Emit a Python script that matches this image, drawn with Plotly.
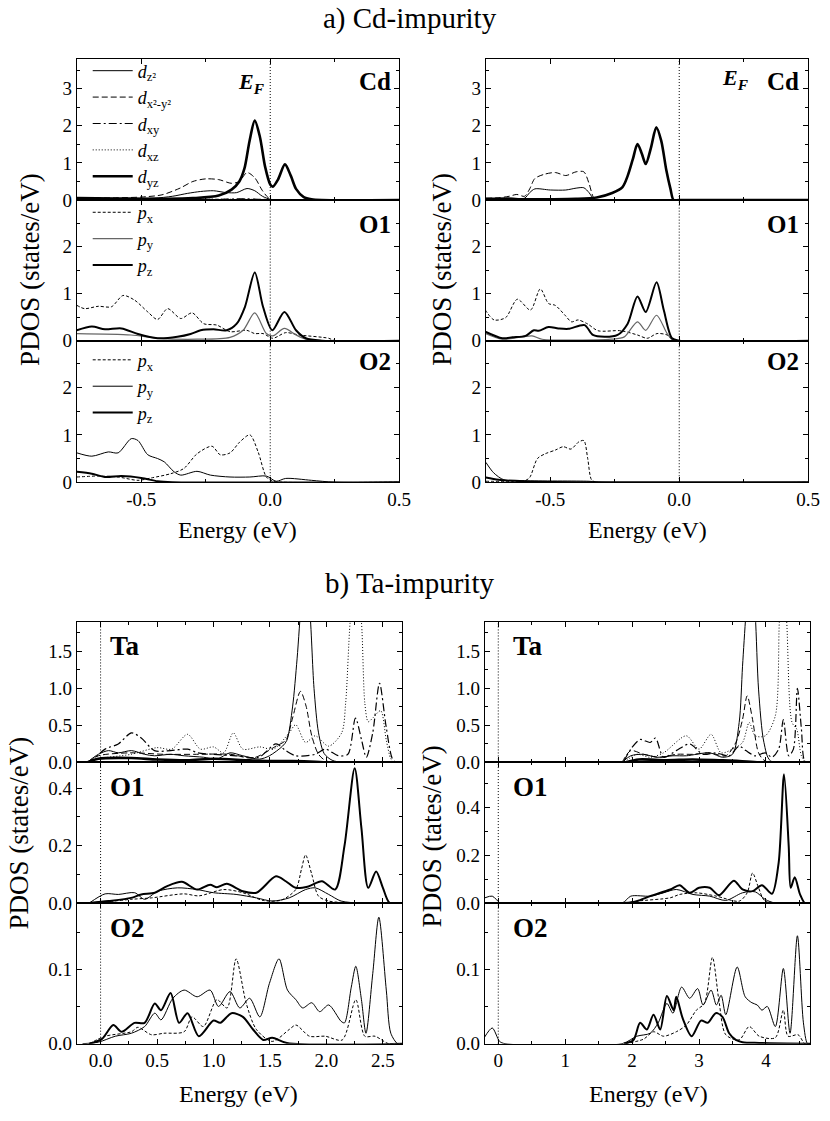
import plotly.graph_objects as go

FONT = "Liberation Serif, Times New Roman, serif"
W, H = 830, 1121

# ---------------- tick labels ----------------
TOP_X_TICKS = [-0.5, 0.0, 0.5]
TOP_X_TEXT = ["-0.5", "0.0", "0.5"]
TOP_Y_TICKS_CD = [0, 1, 2, 3]
TOP_Y_TICKS_O = [0, 1, 2]
BL_X_TICKS = [0.0, 0.5, 1.0, 1.5, 2.0, 2.5]
BL_X_TEXT = ["0.0", "0.5", "1.0", "1.5", "2.0", "2.5"]
BR_X_TICKS = [0, 1, 2, 3, 4]
BR_X_TEXT = ["0", "1", "2", "3", "4"]
TA_Y_TICKS = [0.0, 0.5, 1.0, 1.5]
TA_Y_TEXT = ["0.0", "0.5", "1.0", "1.5"]
O1B_Y_TICKS = [0.0, 0.2, 0.4]
O1B_Y_TEXT = ["0.0", "0.2", "0.4"]
O2B_Y_TICKS = [0.0, 0.1]
O2B_Y_TEXT = ["0.0", "0.1"]

# ================= a) Cd-impurity, left column =================
E_TL_CD_DZ2 = [-0.75, -0.6, -0.45, -0.38, -0.32, -0.27, -0.22, -0.17, -0.13, -0.09, -0.06, -0.03, 0.0, 0.05, 0.5]
V_TL_CD_DZ2 = [0.04, 0.04, 0.05, 0.1, 0.18, 0.23, 0.25, 0.2, 0.2, 0.31, 0.25, 0.1, 0.02, 0.0, 0.0]
E_TL_CD_DX2 = [-0.75, -0.6, -0.5, -0.42, -0.35, -0.3, -0.25, -0.2, -0.15, -0.12, -0.09, -0.06, -0.03, 0.0, 0.05, 0.5]
V_TL_CD_DX2 = [0.05, 0.06, 0.08, 0.14, 0.32, 0.5, 0.57, 0.55, 0.45, 0.5, 0.74, 0.6, 0.25, 0.02, 0.0, 0.0]
E_TL_CD_DXY = [-0.75, -0.5, -0.2, -0.1, 0.0, 0.1, 0.5]
V_TL_CD_DXY = [0.02, 0.02, 0.02, 0.03, 0.01, 0.0, 0.0]
E_TL_CD_DXZ = [-0.75, -0.5, -0.2, -0.1, 0.0, 0.1, 0.5]
V_TL_CD_DXZ = [0.01, 0.01, 0.02, 0.02, 0.01, 0.0, 0.0]
E_TL_CD_DYZ = [-0.75, -0.6, -0.4, -0.3, -0.2, -0.15, -0.12, -0.1, -0.08, -0.06, -0.04, -0.02, 0.0, 0.01, 0.03, 0.057, 0.08, 0.1, 0.13, 0.16, 0.2, 0.5]
V_TL_CD_DYZ = [0.05, 0.04, 0.03, 0.05, 0.12, 0.28, 0.5, 0.85, 1.6, 2.14, 1.7, 0.9, 0.42, 0.36, 0.55, 0.96, 0.65, 0.3, 0.08, 0.02, 0.0, 0.0]
E_TL_O1_PX = [-0.75, -0.72, -0.667, -0.616, -0.571, -0.526, -0.475, -0.437, -0.398, -0.347, -0.303, -0.258, -0.207, -0.156, -0.092, -0.06, -0.028, 0.01, 0.06, 0.112, 0.227, 0.25, 0.5]
V_TL_O1_PX = [0.75, 0.68, 0.73, 0.72, 0.96, 0.86, 0.61, 0.45, 0.68, 0.47, 0.59, 0.36, 0.33, 0.19, 0.22, 0.15, 0.15, 0.05, 0.17, 0.12, 0.05, 0.0, 0.0]
E_TL_O1_PY = [-0.75, -0.54, -0.437, -0.284, -0.156, -0.105, -0.06, -0.015, 0.01, 0.055, 0.1, 0.138, 0.2, 0.5]
V_TL_O1_PY = [0.15, 0.12, 0.05, 0.03, 0.07, 0.22, 0.59, 0.15, 0.1, 0.26, 0.12, 0.03, 0.0, 0.0]
E_TL_O1_PZ = [-0.75, -0.692, -0.641, -0.577, -0.513, -0.437, -0.36, -0.309, -0.27, -0.22, -0.169, -0.13, -0.098, -0.06, -0.028, 0.008, 0.055, 0.1, 0.138, 0.2, 0.5]
V_TL_O1_PZ = [0.22, 0.3, 0.24, 0.26, 0.14, 0.05, 0.08, 0.14, 0.22, 0.24, 0.22, 0.36, 0.72, 1.45, 0.72, 0.22, 0.61, 0.22, 0.05, 0.0, 0.0]
E_TL_O2_PX = [-0.75, -0.667, -0.59, -0.513, -0.462, -0.386, -0.335, -0.284, -0.226, -0.194, -0.156, -0.118, -0.079, -0.047, -0.015, 0.01, 0.05, 0.5]
V_TL_O2_PX = [0.11, 0.13, 0.11, 0.04, 0.09, 0.18, 0.29, 0.6, 0.76, 0.58, 0.62, 0.85, 1.0, 0.64, 0.11, 0.02, 0.0, 0.0]
E_TL_O2_PY = [-0.75, -0.692, -0.628, -0.59, -0.539, -0.513, -0.475, -0.437, -0.411, -0.373, -0.347, -0.284, -0.232, -0.156, -0.079, -0.015, 0.023, 0.06, 0.16, 0.25, 0.5]
V_TL_O2_PY = [0.62, 0.55, 0.64, 0.62, 0.92, 0.88, 0.58, 0.5, 0.43, 0.22, 0.15, 0.23, 0.15, 0.11, 0.11, 0.13, 0.02, 0.08, 0.04, 0.0, 0.0]
E_TL_O2_PZ = [-0.75, -0.692, -0.641, -0.577, -0.5, -0.437, -0.38, 0.5]
V_TL_O2_PZ = [0.22, 0.18, 0.11, 0.13, 0.09, 0.02, 0.0, 0.0]

# ================= a) Cd-impurity, right column =================
E_TR_CD_DZ2 = [-0.75, -0.66, -0.6, -0.58, -0.56, -0.5, -0.44, -0.4, -0.37, -0.35, -0.33, -0.3, 0.0, 0.5]
V_TR_CD_DZ2 = [0.05, 0.06, 0.05, 0.2, 0.3, 0.27, 0.27, 0.32, 0.33, 0.2, 0.02, 0.0, 0.0, 0.0]
E_TR_CD_DX2 = [-0.75, -0.7, -0.66, -0.63, -0.6, -0.58, -0.56, -0.52, -0.48, -0.44, -0.4, -0.37, -0.35, -0.33, -0.3, 0.0, 0.5]
V_TR_CD_DX2 = [0.05, 0.06, 0.1, 0.15, 0.1, 0.3, 0.58, 0.7, 0.74, 0.66, 0.76, 0.76, 0.45, 0.05, 0.0, 0.0, 0.0]
E_TR_CD_DXY = [-0.75, -0.5, -0.3, 0.0, 0.5]
V_TR_CD_DXY = [0.02, 0.02, 0.01, 0.0, 0.0]
E_TR_CD_DXZ = [-0.75, -0.5, -0.3, 0.0, 0.5]
V_TR_CD_DXZ = [0.01, 0.01, 0.01, 0.0, 0.0]
E_TR_CD_DYZ = [-0.75, -0.5, -0.4, -0.32, -0.26, -0.22, -0.2, -0.18, -0.162, -0.145, -0.13, -0.11, -0.089, -0.07, -0.05, -0.034, -0.022, 0.0, 0.5]
V_TR_CD_DYZ = [0.02, 0.02, 0.03, 0.07, 0.19, 0.35, 0.65, 1.1, 1.51, 1.25, 0.97, 1.4, 1.96, 1.6, 0.8, 0.3, 0.0, 0.0, 0.0]
E_TR_O1_PX = [-0.752, -0.718, -0.673, -0.628, -0.577, -0.539, -0.507, -0.481, -0.443, -0.418, -0.392, -0.354, -0.315, -0.226, -0.162, -0.124, -0.086, -0.047, -0.022, 0.0, 0.5]
V_TR_O1_PX = [0.65, 0.44, 0.49, 0.88, 0.65, 1.1, 0.79, 0.75, 0.54, 0.4, 0.44, 0.35, 0.21, 0.21, 0.12, 0.05, 0.15, 0.12, 0.0, 0.0, 0.0]
E_TR_O1_PY = [-0.752, -0.686, -0.571, -0.532, -0.264, -0.213, -0.162, -0.13, -0.088, -0.047, -0.022, 0.0, 0.5]
V_TR_O1_PY = [0.15, 0.03, 0.1, 0.03, 0.03, 0.08, 0.4, 0.22, 0.54, 0.15, 0.0, 0.0, 0.0]
E_TR_O1_PZ = [-0.752, -0.686, -0.647, -0.596, -0.564, -0.545, -0.507, -0.469, -0.43, -0.367, -0.335, -0.29, -0.239, -0.2, -0.162, -0.13, -0.088, -0.06, -0.028, 0.0, 0.5]
V_TR_O1_PZ = [0.19, 0.05, 0.07, 0.1, 0.22, 0.21, 0.29, 0.26, 0.25, 0.33, 0.12, 0.08, 0.12, 0.36, 0.94, 0.61, 1.24, 0.65, 0.05, 0.0, 0.0]
E_TR_O2_PX = [-0.75, -0.65, -0.6, -0.58, -0.55, -0.52, -0.48, -0.45, -0.42, -0.39, -0.37, -0.355, -0.34, -0.32, 0.5]
V_TR_O2_PX = [0.02, 0.02, 0.03, 0.1, 0.5, 0.6, 0.68, 0.75, 0.7, 0.85, 0.88, 0.5, 0.05, 0.0, 0.0]
E_TR_O2_PY = [-0.75, -0.72, -0.68, -0.6, -0.35, -0.3, 0.5]
V_TR_O2_PY = [0.42, 0.2, 0.05, 0.03, 0.02, 0.0, 0.0]
E_TR_O2_PZ = [-0.75, -0.7, -0.6, -0.4, 0.5]
V_TR_O2_PZ = [0.1, 0.05, 0.02, 0.0, 0.0]

# ================= b) Ta-impurity, left column =================
E_BL_TA_DZ2 = [-0.12, -0.02, 0.07, 0.157, 0.273, 0.39, 0.477, 0.62, 0.74, 0.913, 1.03, 1.146, 1.26, 1.408, 1.495, 1.611, 1.65, 1.70, 1.74, 1.78, 1.81, 1.85, 1.89, 1.93, 1.98, 2.05, 2.15, 2.67]
V_BL_TA_DZ2 = [0.0, 0.11, 0.16, 0.13, 0.16, 0.11, 0.09, 0.11, 0.09, 0.07, 0.045, 0.13, 0.09, 0.045, 0.09, 0.22, 0.3, 0.75, 1.4, 2.2, 2.5, 2.1, 1.0, 0.4, 0.12, 0.03, 0.0, 0.0]
E_BL_TA_DX2 = [-0.12, -0.02, 0.27, 0.56, 0.85, 1.15, 1.35, 1.553, 1.64, 1.70, 1.77, 1.82, 1.87, 1.93, 2.0, 2.2, 2.67]
V_BL_TA_DX2 = [0.0, 0.09, 0.13, 0.11, 0.11, 0.11, 0.06, 0.22, 0.3, 0.6, 0.96, 0.76, 0.36, 0.11, 0.02, 0.01, 0.0]
E_BL_TA_DXY = [-0.12, -0.076, 0.04, 0.157, 0.273, 0.36, 0.477, 0.62, 0.77, 0.86, 1.0, 1.2, 1.4, 1.553, 1.64, 1.728, 1.9, 1.99, 2.106, 2.19, 2.257, 2.31, 2.353, 2.41, 2.47, 2.528, 2.585, 2.62, 2.67]
V_BL_TA_DXY = [0.0, 0.03, 0.18, 0.25, 0.4, 0.33, 0.16, 0.16, 0.18, 0.13, 0.11, 0.09, 0.07, 0.25, 0.16, 0.09, 0.11, 0.18, 0.09, 0.11, 0.6, 0.31, 0.07, 0.4, 1.07, 0.49, 0.045, 0.0, 0.0]
E_BL_TA_DXZ = [-0.12, -0.02, 0.27, 0.5, 0.63, 0.77, 0.884, 1.0, 1.09, 1.175, 1.26, 1.41, 1.53, 1.67, 1.728, 1.815, 1.9, 2.02, 2.135, 2.17, 2.21, 2.26, 2.31, 2.34, 2.37, 2.41, 2.48, 2.53, 2.57, 2.6, 2.67]
V_BL_TA_DXZ = [0.0, 0.05, 0.11, 0.2, 0.18, 0.38, 0.18, 0.21, 0.13, 0.4, 0.18, 0.21, 0.18, 0.4, 0.51, 0.27, 0.36, 0.22, 0.4, 0.8, 1.9, 2.6, 1.9, 0.8, 0.55, 0.6, 0.7, 0.3, 0.05, 0.0, 0.0]
E_BL_TA_DYZ = [-0.12, -0.02, 0.27, 0.5, 0.77, 1.0, 1.3, 1.5, 1.7, 1.9, 2.0, 2.67]
V_BL_TA_DYZ = [0.0, 0.05, 0.06, 0.04, 0.03, 0.05, 0.03, 0.02, 0.02, 0.01, 0.0, 0.0]
E_BL_O1_PX = [-0.05, 0.27, 0.45, 0.74, 0.87, 1.09, 1.26, 1.44, 1.6, 1.728, 1.78, 1.815, 1.87, 1.93, 2.02, 2.3, 2.67]
V_BL_O1_PX = [0.0, 0.013, 0.018, 0.032, 0.025, 0.047, 0.036, 0.009, 0.01, 0.047, 0.12, 0.168, 0.1, 0.024, 0.007, 0.0, 0.0]
E_BL_O1_PY = [-0.1, 0.04, 0.157, 0.302, 0.39, 0.506, 0.68, 0.855, 1.0, 1.2, 1.38, 1.52, 1.67, 1.815, 1.9, 2.02, 2.13, 2.3, 2.67]
V_BL_O1_PY = [0.0, 0.032, 0.03, 0.036, 0.013, 0.041, 0.053, 0.047, 0.036, 0.03, 0.018, 0.007, 0.018, 0.047, 0.053, 0.03, 0.007, 0.0, 0.0]
E_BL_O1_PZ = [-0.1, 0.07, 0.27, 0.36, 0.48, 0.59, 0.72, 0.855, 0.97, 1.03, 1.117, 1.26, 1.38, 1.553, 1.64, 1.728, 1.84, 1.96, 2.077, 2.16, 2.25, 2.31, 2.37, 2.44, 2.5, 2.56, 2.67]
V_BL_O1_PZ = [0.0, 0.007, 0.018, 0.03, 0.036, 0.059, 0.074, 0.047, 0.064, 0.055, 0.067, 0.041, 0.036, 0.093, 0.076, 0.053, 0.058, 0.076, 0.047, 0.2, 0.47, 0.26, 0.053, 0.11, 0.053, 0.0, 0.0]
E_BL_O2_PX = [-0.1, 0.04, 0.273, 0.33, 0.45, 0.56, 0.74, 0.81, 0.91, 1.03, 1.12, 1.2, 1.29, 1.38, 1.52, 1.67, 1.73, 1.85, 1.99, 2.14, 2.26, 2.34, 2.43, 2.55, 2.67]
V_BL_O2_PX = [0.0, 0.01, 0.016, 0.022, 0.012, 0.014, 0.016, 0.036, 0.023, 0.059, 0.048, 0.114, 0.054, 0.019, 0.003, 0.019, 0.025, 0.01, 0.01, 0.005, 0.059, 0.01, 0.01, 0.0, 0.0]
E_BL_O2_PY = [-0.16, -0.02, 0.13, 0.273, 0.39, 0.48, 0.535, 0.64, 0.74, 0.855, 0.97, 1.044, 1.146, 1.233, 1.32, 1.41, 1.495, 1.58, 1.655, 1.73, 1.79, 1.87, 1.94, 2.02, 2.13, 2.16, 2.22, 2.26, 2.31, 2.35, 2.41, 2.464, 2.53, 2.57, 2.63, 2.67]
V_BL_O2_PY = [0.0, 0.002, 0.01, 0.014, 0.023, 0.041, 0.032, 0.061, 0.072, 0.063, 0.072, 0.05, 0.07, 0.048, 0.061, 0.036, 0.081, 0.114, 0.072, 0.059, 0.048, 0.055, 0.043, 0.052, 0.03, 0.028, 0.076, 0.104, 0.059, 0.014, 0.094, 0.17, 0.072, 0.014, 0.0, 0.0]
E_BL_O2_PZ = [-0.1, 0.01, 0.113, 0.186, 0.3, 0.39, 0.48, 0.535, 0.62, 0.695, 0.77, 0.87, 1.0, 1.06, 1.16, 1.26, 1.35, 1.44, 1.52, 1.65, 2.67]
V_BL_O2_PZ = [0.0, 0.006, 0.025, 0.016, 0.028, 0.028, 0.054, 0.045, 0.068, 0.028, 0.041, 0.01, 0.031, 0.028, 0.041, 0.036, 0.019, 0.005, 0.008, 0.001, 0.0]

# ================= b) Ta-impurity, right column =================
E_BR_TA_DZ2 = [1.85, 1.98, 2.17, 2.37, 2.61, 2.81, 3.16, 3.35, 3.5, 3.6, 3.65, 3.7, 3.77, 3.84, 3.89, 3.97, 4.07, 4.66]
V_BR_TA_DZ2 = [0.0, 0.09, 0.11, 0.07, 0.09, 0.09, 0.13, 0.07, 0.11, 0.54, 1.3, 2.0, 2.8, 2.0, 0.98, 0.27, 0.02, 0.0]
E_BR_TA_DX2 = [1.85, 1.98, 2.17, 2.42, 2.66, 2.91, 3.16, 3.4, 3.55, 3.65, 3.72, 3.8, 3.89, 3.99, 4.66]
V_BR_TA_DX2 = [0.0, 0.16, 0.11, 0.07, 0.11, 0.11, 0.13, 0.09, 0.27, 0.58, 0.9, 0.58, 0.13, 0.02, 0.0]
E_BR_TA_DXY = [1.88, 1.98, 2.12, 2.27, 2.35, 2.47, 2.66, 2.86, 3.06, 3.25, 3.45, 3.6, 3.7, 3.84, 3.99, 4.09, 4.19, 4.26, 4.34, 4.41, 4.47, 4.53, 4.58, 4.66]
V_BR_TA_DXY = [0.02, 0.18, 0.31, 0.27, 0.33, 0.07, 0.16, 0.25, 0.11, 0.13, 0.09, 0.22, 0.16, 0.09, 0.13, 0.07, 0.18, 0.58, 0.09, 0.18, 1.0, 0.45, 0.02, 0.0]
E_BR_TA_DXZ = [1.88, 2.07, 2.27, 2.47, 2.81, 3.0, 3.18, 3.33, 3.5, 3.65, 3.75, 3.84, 3.99, 4.14, 4.2, 4.25, 4.31, 4.39, 4.46, 4.53, 4.6, 4.66]
V_BR_TA_DXZ = [0.0, 0.11, 0.07, 0.13, 0.36, 0.18, 0.38, 0.13, 0.18, 0.27, 0.54, 0.36, 0.36, 0.63, 1.9, 2.6, 1.9, 0.54, 0.45, 0.09, 0.0, 0.0]
E_BR_TA_DYZ = [1.9, 2.1, 2.5, 2.9, 3.3, 3.6, 3.9, 4.66]
V_BR_TA_DYZ = [0.0, 0.04, 0.03, 0.04, 0.03, 0.02, 0.0, 0.0]
E_BR_O1_PX = [1.9, 2.07, 2.57, 2.71, 2.96, 3.26, 3.6, 3.72, 3.8, 3.89, 3.99, 4.66]
V_BR_O1_PX = [0.0, 0.008, 0.022, 0.036, 0.043, 0.029, 0.008, 0.043, 0.126, 0.064, 0.008, 0.0]
E_BR_O1_PY = [-0.2, -0.09, 0.03, 0.1, 1.85, 1.98, 2.27, 2.47, 2.66, 2.91, 3.16, 3.4, 3.65, 3.84, 3.99, 4.14, 4.66]
V_BR_O1_PY = [0.022, 0.029, 0.0, 0.0, 0.0, 0.029, 0.029, 0.043, 0.057, 0.036, 0.029, 0.011, 0.043, 0.047, 0.015, 0.0, 0.0]
E_BR_O1_PZ = [1.88, 2.07, 2.27, 2.57, 2.71, 2.86, 3.0, 3.16, 3.3, 3.52, 3.65, 3.8, 3.94, 4.09, 4.19, 4.27, 4.34, 4.37, 4.43, 4.51, 4.58, 4.66]
V_BR_O1_PZ = [0.0, 0.008, 0.029, 0.057, 0.075, 0.043, 0.064, 0.064, 0.033, 0.094, 0.057, 0.05, 0.075, 0.039, 0.17, 0.54, 0.24, 0.064, 0.108, 0.036, 0.0, 0.0]
E_BR_O2_PX = [1.9, 2.17, 2.32, 2.47, 2.66, 2.81, 2.96, 3.08, 3.2, 3.3, 3.4, 3.6, 3.75, 3.9, 4.14, 4.26, 4.33, 4.48, 4.58, 4.66]
V_BR_O2_PX = [0.0, 0.006, 0.016, 0.01, 0.016, 0.025, 0.045, 0.054, 0.116, 0.056, 0.012, 0.005, 0.023, 0.01, 0.008, 0.045, 0.01, 0.012, 0.0, 0.0]
E_BR_O2_PY = [-0.21, -0.09, 0.02, 0.1, 1.85, 2.07, 2.27, 2.39, 2.52, 2.61, 2.74, 2.86, 2.98, 3.06, 3.18, 3.26, 3.33, 3.4, 3.57, 3.69, 3.79, 3.87, 3.94, 4.02, 4.14, 4.26, 4.36, 4.47, 4.56, 4.62, 4.66]
V_BR_O2_PY = [0.008, 0.021, 0.003, 0.0, 0.0, 0.01, 0.014, 0.028, 0.054, 0.041, 0.076, 0.061, 0.074, 0.052, 0.072, 0.052, 0.065, 0.039, 0.103, 0.063, 0.055, 0.052, 0.045, 0.05, 0.023, 0.101, 0.014, 0.145, 0.028, 0.0, 0.0]
E_BR_O2_PZ = [1.88, 2.02, 2.12, 2.22, 2.32, 2.42, 2.52, 2.62, 2.66, 2.76, 2.89, 3.03, 3.13, 3.25, 3.35, 3.45, 3.55, 3.65, 3.9, 4.66]
V_BR_O2_PZ = [0.0, 0.005, 0.028, 0.019, 0.039, 0.019, 0.064, 0.045, 0.063, 0.033, 0.01, 0.031, 0.028, 0.041, 0.036, 0.014, 0.005, 0.002, 0.001, 0.0]

# ---------------- styles ----------------
STY = {
    "thin": dict(color="black", width=1),
    "dash": dict(color="black", width=1, dash="6px,3px"),
    "dashdot": dict(color="black", width=1.2, dash="8px,3px,2px,3px"),
    "dot": dict(color="black", width=1, dash="1px,2px"),
    "thick": dict(color="black", width=2.6),
    "pdash": dict(color="black", width=1, dash="3px,2px"),
    "gray": dict(color="#666666", width=1.2),
    "pthick": dict(color="black", width=2),
}

D_NAMES = ["<i>d</i><sub>z²</sub>", "<i>d</i><sub>x²-y²</sub>", "<i>d</i><sub>xy</sub>",
           "<i>d</i><sub>xz</sub>", "<i>d</i><sub>yz</sub>"]
P_NAMES = ["<i>p</i><sub>x</sub>", "<i>p</i><sub>y</sub>", "<i>p</i><sub>z</sub>"]

fig = go.Figure()


def sid(n):
    return "" if n == 1 else str(n)


def add(n, E, V, style, name, legend=None):
    fig.add_trace(go.Scatter(
        x=E, y=V, mode="lines", line=dict(**STY[style], shape="spline", smoothing=0.8),
        name=name, xaxis=f"x{sid(n)}", yaxis=f"y{sid(n)}",
        showlegend=legend is not None, legend=legend or "legend", hoverinfo="skip"))


D_STY = ["thin", "dash", "dashdot", "dot", "thick"]
panels_d = {
    1: [(E_TL_CD_DZ2, V_TL_CD_DZ2), (E_TL_CD_DX2, V_TL_CD_DX2), (E_TL_CD_DXY, V_TL_CD_DXY),
        (E_TL_CD_DXZ, V_TL_CD_DXZ), (E_TL_CD_DYZ, V_TL_CD_DYZ)],
    4: [(E_TR_CD_DZ2, V_TR_CD_DZ2), (E_TR_CD_DX2, V_TR_CD_DX2), (E_TR_CD_DXY, V_TR_CD_DXY),
        (E_TR_CD_DXZ, V_TR_CD_DXZ), (E_TR_CD_DYZ, V_TR_CD_DYZ)],
    7: [(E_BL_TA_DZ2, V_BL_TA_DZ2), (E_BL_TA_DX2, V_BL_TA_DX2), (E_BL_TA_DXY, V_BL_TA_DXY),
        (E_BL_TA_DXZ, V_BL_TA_DXZ), (E_BL_TA_DYZ, V_BL_TA_DYZ)],
    10: [(E_BR_TA_DZ2, V_BR_TA_DZ2), (E_BR_TA_DX2, V_BR_TA_DX2), (E_BR_TA_DXY, V_BR_TA_DXY),
         (E_BR_TA_DXZ, V_BR_TA_DXZ), (E_BR_TA_DYZ, V_BR_TA_DYZ)],
}
for n, curves in panels_d.items():
    for i, (E, V) in enumerate(curves):
        add(n, E, V, D_STY[i], D_NAMES[i], "legend" if n == 1 else None)

panels_p = {
    2: ([(E_TL_O1_PX, V_TL_O1_PX), (E_TL_O1_PY, V_TL_O1_PY), (E_TL_O1_PZ, V_TL_O1_PZ)], "legend2", ["pdash", "gray", "pthick"]),
    3: ([(E_TL_O2_PX, V_TL_O2_PX), (E_TL_O2_PY, V_TL_O2_PY), (E_TL_O2_PZ, V_TL_O2_PZ)], "legend3", ["pdash", "thin", "pthick"]),
    5: ([(E_TR_O1_PX, V_TR_O1_PX), (E_TR_O1_PY, V_TR_O1_PY), (E_TR_O1_PZ, V_TR_O1_PZ)], None, ["pdash", "gray", "pthick"]),
    6: ([(E_TR_O2_PX, V_TR_O2_PX), (E_TR_O2_PY, V_TR_O2_PY), (E_TR_O2_PZ, V_TR_O2_PZ)], None, ["pdash", "thin", "pthick"]),
    8: ([(E_BL_O1_PX, V_BL_O1_PX), (E_BL_O1_PY, V_BL_O1_PY), (E_BL_O1_PZ, V_BL_O1_PZ)], None, ["pdash", "thin", "pthick"]),
    9: ([(E_BL_O2_PX, V_BL_O2_PX), (E_BL_O2_PY, V_BL_O2_PY), (E_BL_O2_PZ, V_BL_O2_PZ)], None, ["pdash", "thin", "pthick"]),
    11: ([(E_BR_O1_PX, V_BR_O1_PX), (E_BR_O1_PY, V_BR_O1_PY), (E_BR_O1_PZ, V_BR_O1_PZ)], None, ["pdash", "thin", "pthick"]),
    12: ([(E_BR_O2_PX, V_BR_O2_PX), (E_BR_O2_PY, V_BR_O2_PY), (E_BR_O2_PZ, V_BR_O2_PZ)], None, ["pdash", "thin", "pthick"]),
}
for n, (curves, leg, stys) in panels_p.items():
    for i, (E, V) in enumerate(curves):
        add(n, E, V, stys[i], P_NAMES[i], leg)

# ---------------- axes ----------------
def xd(a, b):
    return [a / W, b / W]


def yd(top, bot):
    return [1 - bot / H, 1 - top / H]


COLS = {"TL": (78, 405), "TR": (493, 820), "BL": (78, 408), "BR": (492, 822)}
ROWS_T = [(60, 202), (202, 344), (344, 487)]
ROWS_B = [(628, 770), (770, 912), (912, 1054)]

tickfont = dict(family=FONT, size=19, color="black")
layout = {}


def axis_common():
    return dict(showline=True, linecolor="black", linewidth=1, mirror="allticks",
                ticks="inside", ticklen=5, tickwidth=1, tickcolor="black",
                showgrid=False, zeroline=False, tickfont=tickfont,
                ticklabeloverflow="allow")


specs = []
for k, col in [(0, "TL"), (1, "TR")]:
    for r in range(3):
        n = k * 3 + r + 1
        yr = [0, 3.79] if r == 0 else [0, 2.99]
        yt = TOP_Y_TICKS_CD if r == 0 else TOP_Y_TICKS_O
        specs.append((n, col, ROWS_T[r], [-0.75, 0.5], yr, TOP_X_TICKS, TOP_X_TEXT, 0.25,
                      yt, [str(v) for v in yt], 0.5, r == 2))
for k, col, xr, xt, xtt, xm in [(0, "BL", [-0.21, 2.67], BL_X_TICKS, BL_X_TEXT, 0.25),
                                (1, "BR", [-0.2, 4.66], BR_X_TICKS, BR_X_TEXT, 0.5)]:
    yranges = [[0, 1.9], [0, 0.49] if k == 0 else [0, 0.59], [0, 0.189]]
    yticks = [(TA_Y_TICKS, TA_Y_TEXT, 0.25), (O1B_Y_TICKS, O1B_Y_TEXT, 0.1), (O2B_Y_TICKS, O2B_Y_TEXT, 0.05)]
    for r in range(3):
        n = 7 + k * 3 + r
        specs.append((n, col, ROWS_B[r], xr, yranges[r], xt, xtt, xm,
                      yticks[r][0], yticks[r][1], yticks[r][2], r == 2))

for (n, col, rg, xr, yr, xt, xtt, xm, yt, ytt, ym, showx) in specs:
    s = sid(n)
    xa = axis_common()
    xa.update(domain=xd(*COLS[col]), range=xr, anchor=f"y{s}", tickvals=xt, ticktext=xtt,
              showticklabels=showx, minor=dict(ticks="inside", ticklen=3, dtick=xm, tick0=0, tickcolor="black"))
    ya = axis_common()
    ya.update(domain=yd(*rg), range=yr, anchor=f"x{s}", tickvals=yt, ticktext=ytt,
              minor=dict(ticks="inside", ticklen=3, dtick=ym, tick0=0, tickcolor="black"))
    layout[f"xaxis{s}"] = xa
    layout[f"yaxis{s}"] = ya
    fig.add_shape(type="line", x0=0, x1=0, y0=0, y1=1, xref=f"x{s}", yref=f"y{s} domain",
                  line=dict(color="black", width=1, dash="1px,2px"))

fig.update_layout(**layout)

# ---------------- annotations ----------------
def ann(text, px, py, size, xanchor="center", bold=False, angle=0):
    fig.add_annotation(text=f"<b>{text}</b>" if bold else text, x=px / W, y=1 - py / H,
                       xref="paper", yref="paper", showarrow=False, xanchor=xanchor, yanchor="middle",
                       textangle=angle, font=dict(family=FONT, size=size, color="black"))


ann("a) Cd-impurity", 416, 19, 29)
ann("b) Ta-impurity", 416, 589, 29)
for cx in (241, 657):
    ann("Energy (eV)", cx, 535, 24)
    ann("Energy (eV)", cx + 1, 1105, 24)
ann("PDOS (states/eV)", 31, 272, 27, angle=-90)
ann("PDOS (states/eV)", 449, 272, 27, angle=-90)
ann("PDOS (states/eV)", 19, 841, 27, angle=-90)
ann("PDOS (tates/eV)", 438, 845, 27, angle=-90)
for rx in (399, 813):
    ann("Cd", rx, 82, 25, "right", True)
    ann("O1", rx, 227, 25, "right", True)
    ann("O2", rx, 365, 25, "right", True)
for lx in (110, 519):
    ann("Ta", lx, 652, 27, "left", True)
    ann("O1", lx, 795, 27, "left", True)
    ann("O2", lx, 937, 27, "left", True)
ann("<b><i>E</i></b><sub><b><i>F</i></b></sub>", 255, 84, 22)
ann("<b><i>E</i></b><sub><b><i>F</i></b></sub>", 746, 80, 22)

leg_common = dict(font=dict(family=FONT, size=18, color="black"), bgcolor="rgba(0,0,0,0)",
                  xanchor="left", yanchor="top", tracegroupgap=0, itemwidth=40,
                  borderwidth=0, traceorder="normal")
fig.update_layout(
    width=W, height=H, margin=dict(l=0, r=0, t=0, b=0),
    paper_bgcolor="white", plot_bgcolor="white",
    font=dict(family=FONT, color="black"),
    legend=dict(x=89 / W, y=1 - 53 / H, **leg_common),
    legend2=dict(x=89 / W, y=1 - 196 / H, **leg_common),
    legend3=dict(x=89 / W, y=1 - 345 / H, **leg_common),
)

fig.write_html("out.html", post_script="document.body.style.margin='0';document.body.style.overflow='hidden';")
